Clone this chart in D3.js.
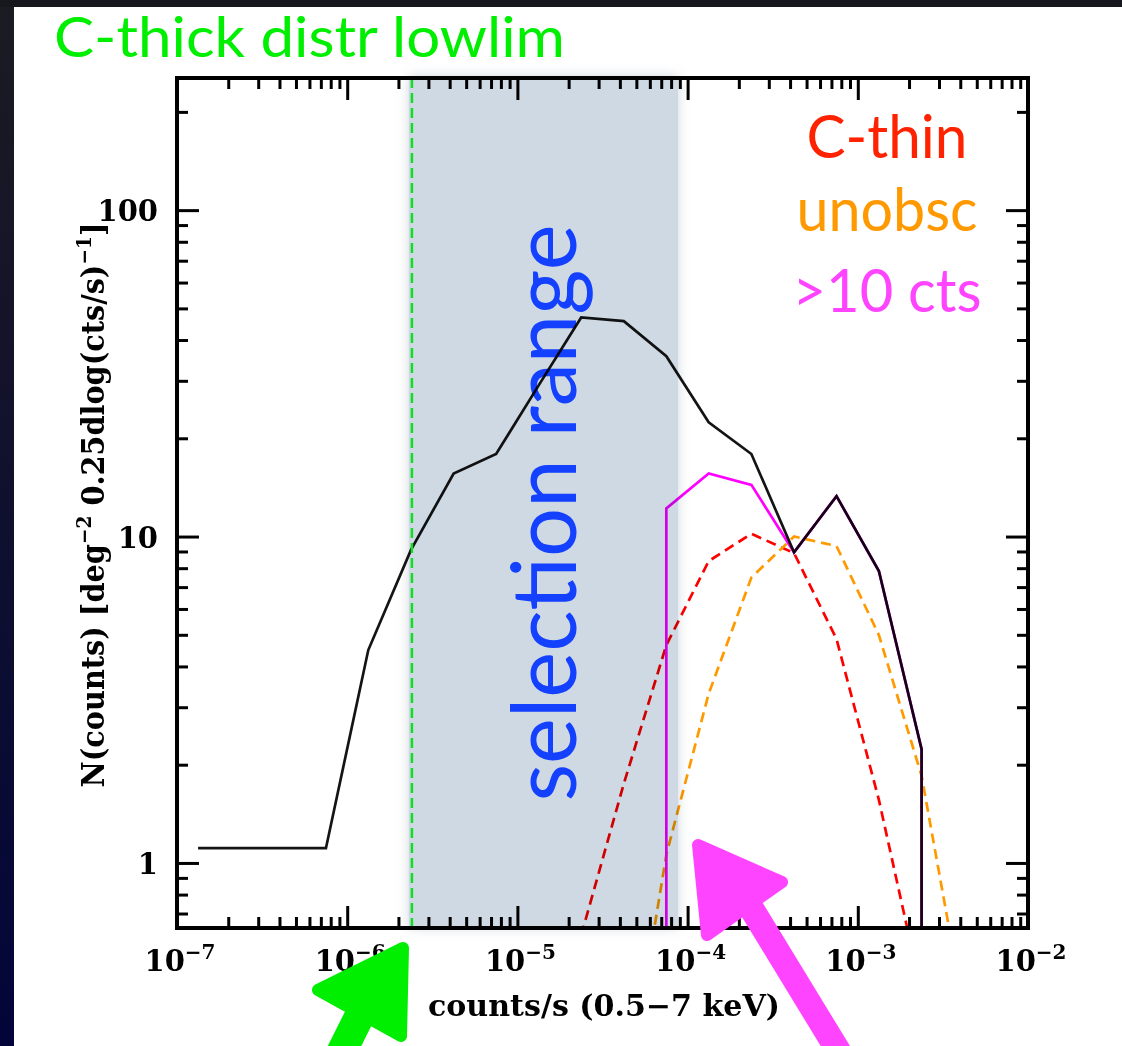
<!DOCTYPE html>
<html>
<head>
<meta charset="utf-8">
<script src="https://cdn.jsdelivr.net/npm/d3@7/dist/d3.min.js"></script>
<style>
  html, body { margin: 0; padding: 0; }
  body { width: 1122px; height: 1046px; overflow: hidden; background: #ffffff; }
</style>
</head>
<body>
<div id="chart"></div>
<script>
// ---- data (bin centres in counts/s, N per bin) ----
const totalRate = [1.33e-7, 7.5e-7, 1.33e-6, 2.37e-6, 4.22e-6, 7.5e-6, 1.33e-5, 2.37e-5,
                   4.22e-5, 7.5e-5, 1.33e-4, 2.37e-4, 4.22e-4, 7.5e-4, 1.33e-3, 2.37e-3, 2.37e-3];
const totalN    = [1.11, 1.11, 4.49, 9.1, 15.6, 17.9, 29, 46.9,
                   45.7, 35.7, 22.4, 17.9, 8.95, 13.3, 7.84, 2.23, 0.3];

const brightRate = [7.5e-5, 7.5e-5, 1.33e-4, 2.37e-4, 4.22e-4, 7.5e-4, 1.33e-3, 2.37e-3, 2.37e-3];
const brightN    = [0.3, 12.2, 15.6, 14.4, 8.95, 13.3, 7.84, 2.23, 0.3];

const thinRate = [2.37e-5, 4.22e-5, 7.5e-5, 1.33e-4, 2.37e-4, 4.22e-4, 7.5e-4, 1.33e-3, 2.37e-3];
const thinN    = [0.6, 1.75, 4.65, 8.41, 10.2, 8.9, 4.85, 1.56, 0.4];

const unobsRate = [4.22e-5, 7.5e-5, 1.33e-4, 2.37e-4, 4.22e-4, 7.5e-4, 1.33e-3, 2.37e-3, 4.22e-3];
const unobsN    = [0.17, 1.06, 3.3, 7.49, 10.0, 9.35, 4.99, 1.85, 0.35];

const lowLim = 2.4e-6;             // C-thick distribution lower limit
const selRange = [2.3e-6, 8.8e-5]; // shaded selection range

const xMajor = [1e-7, 1e-6, 1e-5, 1e-4, 1e-3, 1e-2];
const xExpLabels = ["\u22127", "\u22126", "\u22125", "\u22124", "\u22123", "\u22122"];
const yMajor = [1, 10, 100];
const yLabels = ["1", "10", "100"];

const legendLabels = ["C-thin", "unobsc", ">10 cts"];
const legendColors = ["#ff2200", "#ff9900", "#ff44ff"];

// ---- layout ----
const width = 1122;
const height = 1046;
const plotL = 177, plotR = 1028, plotT = 78, plotB = 928;

const x = d3.scaleLog().domain([1e-7, 1e-2]).range([plotL, plotR]);
const y = d3.scaleLog().domain([0.632, 254]).range([plotB, plotT]);

const svg = d3.select("#chart")
    .append("svg")
    .attr("width", width)
    .attr("height", height);

const defs = svg.append("defs");

const grad = defs.append("linearGradient")
    .attr("id", "edge").attr("x1", 0).attr("y1", 0).attr("x2", 0).attr("y2", 1);
grad.append("stop").attr("offset", "0%").attr("stop-color", "#1b1b22");
grad.append("stop").attr("offset", "100%").attr("stop-color", "#03053a");

defs.append("clipPath").attr("id", "plotclip")
    .append("rect")
    .attr("x", plotL).attr("y", plotT)
    .attr("width", plotR - plotL).attr("height", plotB - plotT);

const soft = defs.append("filter").attr("id", "soft")
    .attr("x", "-20%").attr("y", "-5%").attr("width", "140%").attr("height", "110%");
soft.append("feDropShadow")
    .attr("dx", 0).attr("dy", 0).attr("stdDeviation", 6)
    .attr("flood-color", "#8090a0").attr("flood-opacity", 0.35);

// page background + dark slide edges
svg.append("rect").attr("width", width).attr("height", height).attr("fill", "#ffffff");
svg.append("rect").attr("x", 0).attr("y", 0).attr("width", 14).attr("height", height).attr("fill", "url(#edge)");
svg.append("rect").attr("x", 0).attr("y", 0).attr("width", width).attr("height", 7).attr("fill", "#17171e");

// selection range band
svg.append("rect")
    .attr("x", x(selRange[0]))
    .attr("y", plotT - 2)
    .attr("width", x(selRange[1]) - x(selRange[0]))
    .attr("height", plotB - plotT + 2)
    .attr("fill", "#cfd9e3")
    .attr("filter", "url(#soft)");

// big rotated label inside the band
svg.append("text")
    .attr("transform", "translate(576, 513) rotate(-90)")
    .attr("text-anchor", "middle")
    .attr("font-family", "Lato, 'Open Sans', sans-serif")
    .attr("font-size", 90)
    .attr("fill", "#1440ff")
    .attr("textLength", 577)
    .attr("lengthAdjust", "spacingAndGlyphs")
    .text("selection range");

// curves, multiplied so they darken over the band
const line = d3.line()
    .x(d => x(d[0]))
    .y(d => y(d[1]));

const curves = svg.append("g")
    .attr("clip-path", "url(#plotclip)")
    .style("mix-blend-mode", "multiply")
    .attr("fill", "none")
    .attr("stroke-width", 2.7)
    .attr("stroke-linejoin", "miter");

curves.append("path")
    .attr("d", line(d3.zip(thinRate, thinN)))
    .attr("stroke", "#ff0000")
    .attr("stroke-dasharray", "10,6");

curves.append("path")
    .attr("d", line(d3.zip(unobsRate, unobsN)))
    .attr("stroke", "#ff9900")
    .attr("stroke-dasharray", "10,6");

curves.append("path")
    .attr("d", line(d3.zip(brightRate, brightN)))
    .attr("stroke", "#ff00ff");

curves.append("path")
    .attr("d", line(d3.zip(totalRate, totalN)))
    .attr("stroke", "#000000")
    .attr("stroke-opacity", 0.92);

// C-thick lower limit
svg.append("line")
    .attr("x1", x(lowLim)).attr("x2", x(lowLim))
    .attr("y1", plotT).attr("y2", plotB)
    .attr("stroke", "#11dd22")
    .attr("stroke-width", 2.5)
    .attr("stroke-dasharray", "10,5");

// ---- axes: IDL style, ticks inside on all four sides ----
const minorX = x.ticks().filter(v => xMajor.indexOf(v) < 0);
const minorY = y.ticks().filter(v => yMajor.indexOf(v) < 0);

function addAxis(axis, tx, ty) {
    const g = svg.append("g")
        .attr("transform", `translate(${tx},${ty})`)
        .call(axis);
    g.select(".domain").remove();
    g.selectAll("text").remove();
    g.selectAll("line").attr("stroke", "#000").attr("stroke-width", 3);
}

addAxis(d3.axisBottom(x).tickValues(xMajor).tickSize(-22), 0, plotB);
addAxis(d3.axisBottom(x).tickValues(minorX).tickSize(-11), 0, plotB);
addAxis(d3.axisTop(x).tickValues(xMajor).tickSize(-22), 0, plotT);
addAxis(d3.axisTop(x).tickValues(minorX).tickSize(-11), 0, plotT);
addAxis(d3.axisLeft(y).tickValues(yMajor).tickSize(-22), plotL, 0);
addAxis(d3.axisLeft(y).tickValues(minorY).tickSize(-11), plotL, 0);
addAxis(d3.axisRight(y).tickValues(yMajor).tickSize(-22), plotR, 0);
addAxis(d3.axisRight(y).tickValues(minorY).tickSize(-11), plotR, 0);

svg.append("rect")
    .attr("x", plotL).attr("y", plotT)
    .attr("width", plotR - plotL).attr("height", plotB - plotT)
    .attr("fill", "none")
    .attr("stroke", "#000")
    .attr("stroke-width", 4);

const axisFont = "'DejaVu Serif', serif";

// x tick labels 10^n
const xl = svg.append("g")
    .attr("font-family", axisFont)
    .attr("font-weight", "bold")
    .attr("fill", "#000");
xMajor.forEach((v, i) => {
    const t = xl.append("text")
        .attr("x", x(v) + 3)
        .attr("y", 971)
        .attr("text-anchor", "middle")
        .attr("font-size", 29);
    t.append("tspan").text("10");
    t.append("tspan").attr("font-size", 20).attr("dy", -12).text(xExpLabels[i]);
});

// y tick labels
const yl = svg.append("g")
    .attr("font-family", axisFont)
    .attr("font-weight", "bold")
    .attr("font-size", 29)
    .attr("fill", "#000");
yMajor.forEach((v, i) => {
    yl.append("text")
        .attr("x", 158)
        .attr("y", y(v) + 11)
        .attr("text-anchor", "end")
        .text(yLabels[i]);
});

// axis titles
svg.append("text")
    .attr("x", 604)
    .attr("y", 1016)
    .attr("text-anchor", "middle")
    .attr("font-family", axisFont)
    .attr("font-weight", "bold")
    .attr("font-size", 29)
    .attr("textLength", 352)
    .attr("lengthAdjust", "spacingAndGlyphs")
    .text("counts/s (0.5\u22127 keV)");

const yt = svg.append("text")
    .attr("transform", "translate(104, 505) rotate(-90)")
    .attr("text-anchor", "middle")
    .attr("font-family", axisFont)
    .attr("font-weight", "bold")
    .attr("font-size", 31)
    .attr("textLength", 565)
    .attr("lengthAdjust", "spacingAndGlyphs");
yt.append("tspan").text("N(counts) [deg");
yt.append("tspan").attr("font-size", 20).attr("dy", -13).text("\u22122");
yt.append("tspan").attr("dy", 13).text(" 0.25dlog(cts/s)");
yt.append("tspan").attr("font-size", 20).attr("dy", -13).text("\u22121");
yt.append("tspan").attr("dy", 13).text("]");

// ---- slide annotations ----
const gill = "Lato, 'Open Sans', sans-serif";

svg.append("text")
    .attr("x", 54).attr("y", 57)
    .attr("font-family", gill)
    .attr("font-size", 57)
    .attr("fill", "#00ee00")
    .attr("textLength", 511)
    .attr("lengthAdjust", "spacingAndGlyphs")
    .text("C-thick distr lowlim");

const legendY = [158, 231, 312];
const legendW = [161, 181, 189];
legendLabels.forEach((s, i) => {
    svg.append("text")
        .attr("x", 887).attr("y", legendY[i])
        .attr("text-anchor", "middle")
        .attr("font-family", gill)
        .attr("font-size", 60)
        .attr("fill", legendColors[i])
        .attr("textLength", legendW[i])
        .attr("lengthAdjust", "spacingAndGlyphs")
        .text(s);
});

// hand drawn arrows: shaft + rounded triangular head
const arrows = [
    { color: "#00ee00", shaft: [[330, 1075], [370, 995]], width: 30,
      head: [[403, 948], [318, 990], [401, 1036]] },
    { color: "#ff44ff", shaft: [[850, 1070], [745, 898]], width: 25,
      head: [[698, 845], [782, 882], [707, 935]] }
];
arrows.forEach(a => {
    svg.append("line")
        .attr("x1", a.shaft[0][0]).attr("y1", a.shaft[0][1])
        .attr("x2", a.shaft[1][0]).attr("y2", a.shaft[1][1])
        .attr("stroke", a.color)
        .attr("stroke-width", a.width);
    svg.append("path")
        .attr("d", "M" + a.head.join("L") + "Z")
        .attr("fill", a.color)
        .attr("stroke", a.color)
        .attr("stroke-width", 12)
        .attr("stroke-linejoin", "round");
});
</script>
</body>
</html>
